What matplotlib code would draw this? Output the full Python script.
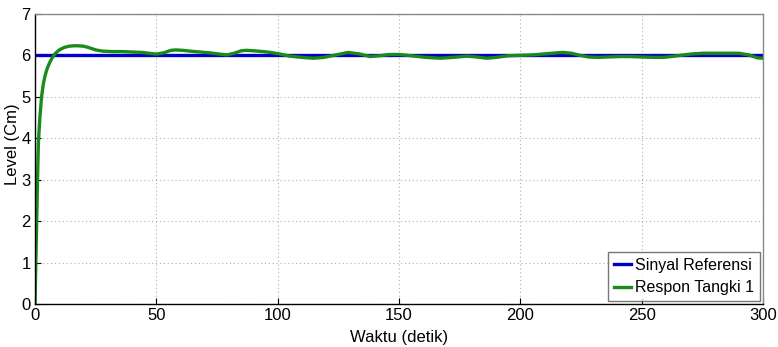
import matplotlib
matplotlib.use("Agg")
import matplotlib.pyplot as plt
from matplotlib import font_manager

# Step response of tank 1 level against the reference setpoint
time_s = [0, 0.3, 0.7, 1.0, 1.4, 2.0, 2.7, 3.4, 4.1, 5, 6, 7, 8, 9, 10, 12, 14, 16, 18,
          20, 22, 25, 28, 32, 36, 40, 44, 47, 50, 53, 56, 58, 61, 64, 68, 72, 76, 79,
          82, 85, 87, 90, 94, 97, 101, 105, 110, 114.6, 119, 124, 129, 134, 138, 142,
          146, 150, 155, 161, 167, 172, 178, 182, 186, 190, 195, 200, 205, 209, 213,
          217.5, 221, 224.5, 228, 232, 236, 241, 245, 250, 255, 259, 262, 266, 270,
          275, 280, 285, 290, 294, 297.5, 300]
respon_tangki1 = [0, 0.9, 2.0, 2.9, 3.9, 4.5, 5.0, 5.3, 5.5, 5.68, 5.82, 5.93, 6.02,
                  6.08, 6.13, 6.19, 6.22, 6.23, 6.23, 6.22, 6.19, 6.13, 6.10, 6.09,
                  6.09, 6.08, 6.07, 6.05, 6.03, 6.06, 6.12, 6.13, 6.12, 6.10, 6.08,
                  6.06, 6.03, 6.01, 6.05, 6.11, 6.12, 6.11, 6.09, 6.07, 6.03, 5.98,
                  5.95, 5.93, 5.95, 6.01, 6.07, 6.03, 5.97, 5.99, 6.02, 6.02, 5.99,
                  5.95, 5.93, 5.95, 5.98, 5.96, 5.93, 5.95, 5.99, 6.00, 6.01, 6.03,
                  6.05, 6.07, 6.05, 6.00, 5.96, 5.95, 5.96, 5.97, 5.97, 5.96, 5.95,
                  5.95, 5.97, 6.00, 6.03, 6.05, 6.05, 6.05, 6.05, 6.01, 5.94, 5.93]
ref_time = [0, 300]
sinyal_referensi = [6, 6]

x_ticks = [0, 50, 100, 150, 200, 250, 300]
y_ticks = [0, 1, 2, 3, 4, 5, 6, 7]

names = {f.name for f in font_manager.fontManager.ttflist}
family = ["Liberation Sans Narrow"] if "Liberation Sans Narrow" in names else ["Liberation Sans"]
plt.rcParams["font.family"] = family + ["DejaVu Sans"]

fig = plt.figure(figsize=(7.78, 3.47), dpi=100)
ax = fig.add_axes([0.045, 0.124, 0.936, 0.836])

ax.plot(ref_time, sinyal_referensi, color="#0000c8", lw=2.4, label="Sinyal Referensi")
ax.plot(time_s, respon_tangki1, color="#1a8a1a", lw=2.4, label="Respon Tangki 1")

ax.set_xlim(0, 300)
ax.set_ylim(0, 7)
ax.set_xticks(x_ticks)
ax.set_yticks(y_ticks)
ax.tick_params(direction="in", length=4, labelsize=12, pad=3, colors="black")
ax.grid(True, linestyle=(0, (1, 2.5)), color="#b0b0b0", linewidth=0.8)

for side in ("top", "right"):
    ax.spines[side].set_color("#8a8a8a")
for side in ("bottom", "left"):
    ax.spines[side].set_color("black")
for sp in ax.spines.values():
    sp.set_linewidth(1.0)

ax.set_xlabel("Waktu (detik)", fontsize=12, labelpad=5)
ax.set_ylabel("Level (Cm)", fontsize=12)
ax.yaxis.set_label_coords(-0.0205, 0.55)

leg = ax.legend(loc="lower right", fontsize=11.5, frameon=True, fancybox=False,
                edgecolor="#555555", handlelength=1.1, handletextpad=0.25,
                borderpad=0.35, labelspacing=0.45, borderaxespad=0.2)
leg.get_frame().set_linewidth(1.0)

fig.savefig("out.png", dpi=100, facecolor="white")
